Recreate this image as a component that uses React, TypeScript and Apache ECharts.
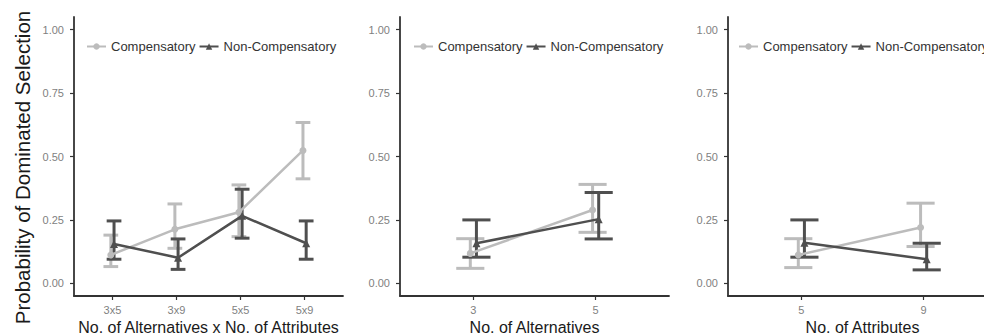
import React, { useEffect, useRef } from "react";
import * as echarts from "echarts";

// ---- Data ----
const cats1 = ["3x5", "3x9", "5x5", "5x9"];
const cats2 = ["3", "5"];
const cats3 = ["5", "9"];

const comp1Mean = [0.112, 0.213, 0.28, 0.524];
const comp1Low = [0.066, 0.138, 0.184, 0.412];
const comp1High = [0.19, 0.313, 0.388, 0.634];
const non1Mean = [0.155, 0.101, 0.266, 0.158];
const non1Low = [0.095, 0.055, 0.178, 0.095];
const non1High = [0.246, 0.175, 0.371, 0.246];

const comp2Mean = [0.118, 0.289];
const comp2Low = [0.059, 0.201];
const comp2High = [0.176, 0.39];
const non2Mean = [0.158, 0.253];
const non2Low = [0.103, 0.175];
const non2High = [0.25, 0.358];

const comp3Mean = [0.112, 0.22];
const comp3Low = [0.062, 0.145];
const comp3High = [0.176, 0.316];
const non3Mean = [0.16, 0.095];
const non3Low = [0.103, 0.053];
const non3High = [0.25, 0.158];

const yTicks = [0, 0.25, 0.5, 0.75, 1];
const seriesNames = ["Compensatory", "Non-Compensatory"];
const xTitles = [
  "No. of Alternatives x No. of Attributes",
  "No. of Alternatives",
  "No. of Attributes",
];
const yTitle = "Probability of Dominated Selection";

// ---- Style ----
const LIGHT = "#bcbcbc";
const DARK = "#4f4f4f";
const AXIS = "#333333";
const FONT = "Liberation Sans";
const DODGE = 0.025;
const CAP = 0.115;

const panels = [
  { cats: cats1, comp: [comp1Mean, comp1Low, comp1High], non: [non1Mean, non1Low, non1High], left: 74, legendLeft: 86 },
  { cats: cats2, comp: [comp2Mean, comp2Low, comp2High], non: [non2Mean, non2Low, non2High], left: 400, legendLeft: 413 },
  { cats: cats3, comp: [comp3Mean, comp3Low, comp3High], non: [non3Mean, non3Low, non3High], left: 728, legendLeft: 738 },
];

function errRender(color: string) {
  return (params: any, api: any) => {
    const x = api.value(0);
    const lo = api.value(1);
    const hi = api.value(2);
    const pTop = api.coord([x, hi]);
    const pBot = api.coord([x, lo]);
    const l = api.coord([x - CAP, hi])[0];
    const r = api.coord([x + CAP, hi])[0];
    const style = { stroke: color, lineWidth: 3, fill: null };
    return {
      type: "group",
      children: [
        { type: "line", shape: { x1: pTop[0], y1: pTop[1], x2: pBot[0], y2: pBot[1] }, style },
        { type: "line", shape: { x1: l, y1: pTop[1], x2: r, y2: pTop[1] }, style },
        { type: "line", shape: { x1: l, y1: pBot[1], x2: r, y2: pBot[1] }, style },
      ],
    };
  };
}

export default function App() {
  const ref = useRef<HTMLDivElement>(null);
  useEffect(() => {
    if (!ref.current) return;
    const chart = echarts.init(ref.current, null, { renderer: "svg" });
    const grids: any[] = [];
    const xAxes: any[] = [];
    const yAxes: any[] = [];
    const legends: any[] = [];
    const series: any[] = [];
    panels.forEach((p, gi) => {
      const n = p.cats.length;
      const pos = p.cats.map((_, i) => i + 1);
      grids.push({ left: p.left, top: 17, width: 269, height: 279, outerBoundsMode: "none", containLabel: false });
      xAxes.push({
        type: "value",
        gridIndex: gi,
        min: 0.4,
        max: n + 0.6,
        axisLine: { show: true, onZero: false, lineStyle: { color: AXIS, width: 1.8 } },
        axisTick: { show: true, customValues: pos, length: 4, lineStyle: { color: AXIS, width: 1.2 } },
        axisLabel: {
          customValues: pos,
          formatter: (v: number) => p.cats[Math.round(v) - 1] ?? "",
          color: "#7f7f7f",
          fontSize: 11,
          fontFamily: FONT,
          margin: 8,
        },
        splitLine: { show: false },
        name: xTitles[gi],
        nameLocation: "middle",
        nameGap: 23,
        nameTextStyle: { fontSize: 16, color: "#1a1a1a", fontFamily: FONT },
      });
      yAxes.push({
        type: "value",
        gridIndex: gi,
        min: -0.05,
        max: 1.05,
        axisLine: { show: true, onZero: false, lineStyle: { color: AXIS, width: 1.8 } },
        axisTick: { show: true, customValues: yTicks, length: 4, lineStyle: { color: AXIS, width: 1.2 } },
        axisLabel: {
          customValues: yTicks,
          formatter: (v: number) => v.toFixed(2),
          color: "#7f7f7f",
          fontSize: 11,
          fontFamily: FONT,
          margin: 10,
        },
        splitLine: { show: false },
      });
      legends.push({
        left: p.legendLeft,
        top: 40,
        width: 400,
        orient: "horizontal",
        padding: 0,
        itemWidth: 19,
        itemHeight: 8,
        itemGap: 3,
        data: seriesNames,
        textStyle: { fontSize: 13, color: "#333", fontFamily: FONT },
        selectedMode: false,
      });
      const groups = [
        { name: seriesNames[0], d: p.comp, color: LIGHT, off: -DODGE, symbol: "circle", size: 7 },
        { name: seriesNames[1], d: p.non, color: DARK, off: DODGE, symbol: "triangle", size: 8 },
      ];
      groups.forEach((g, k) => {
        series.push({
          type: "custom",
          name: g.name + " CI " + gi,
          xAxisIndex: gi,
          yAxisIndex: gi,
          renderItem: errRender(g.color),
          encode: { x: 0, y: [1, 2] },
          data: pos.map((x, i) => [x + g.off, g.d[1][i], g.d[2][i]]),
          z: 2 + k,
        });
      });
      groups.forEach((g, k) => {
        series.push({
          type: "line",
          name: g.name,
          xAxisIndex: gi,
          yAxisIndex: gi,
          data: pos.map((x, i) => [x + g.off, g.d[0][i]]),
          symbol: g.symbol,
          symbolSize: g.size,
          showSymbol: true,
          lineStyle: { color: g.color, width: 2.5 },
          itemStyle: { color: g.color },
          z: 4 + k,
        });
      });
    });
    chart.setOption({
      animation: false,
      backgroundColor: "#ffffff",
      textStyle: { fontFamily: FONT },
      grid: grids,
      xAxis: xAxes,
      yAxis: yAxes,
      legend: legends,
      graphic: [
        {
          type: "text",
          x: 22,
          y: 167.5,
          rotation: Math.PI / 2,
          style: {
            text: yTitle,
            fontSize: 20.5,
            fontFamily: FONT,
            fill: "#1a1a1a",
            align: "center",
            verticalAlign: "middle",
          },
        },
      ],
      series,
    });
    return () => chart.dispose();
  }, []);
  return (
    <div
      ref={ref}
      style={{ position: "fixed", left: 0, top: 0, width: 984, height: 335, background: "#fff" }}
    />
  );
}
